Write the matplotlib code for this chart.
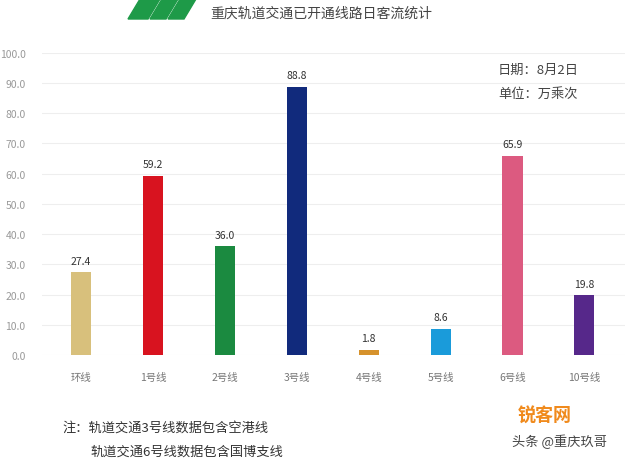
import matplotlib
matplotlib.use("Agg")
from matplotlib import pyplot as plt
from matplotlib.patches import Polygon

plt.rcParams['font.family'] = ['Noto Sans CJK SC', 'DejaVu Sans']

# 数据
lines = ['环线', '1号线', '2号线', '3号线', '4号线', '5号线', '6号线', '10号线']
values = [27.4, 59.2, 36.0, 88.8, 1.8, 8.6, 65.9, 19.8]
colors = ['#D8C07C', '#D8131F', '#1B8A40', '#112A7C', '#D6922C', '#1A9BDA', '#DC5A80', '#56288A']
yticks = [0, 10, 20, 30, 40, 50, 60, 70, 80, 90, 100]

fig = plt.figure(figsize=(6.4, 4.6), dpi=100)
ax = fig.add_axes([0.066, 0.226, 0.91, 0.657])

x = range(len(lines))
ax.bar(x, values, width=0.28, color=colors, zorder=3)
for i, v in enumerate(values):
    ax.text(i, v + 2.2, '%.1f' % v, ha='center', va='bottom', fontsize=7.5, color='#333333')

ax.set_ylim(0, 100)
ax.set_xlim(-0.54, 7.56)
ax.set_yticks(yticks)
ax.set_yticklabels(['%.1f' % t for t in yticks], fontsize=7.5, color='#999999')
ax.set_xticks(list(x))
ax.set_xticklabels(lines, fontsize=7.5, color='#777777')
ax.tick_params(length=0, pad=12)
ax.tick_params(axis='y', pad=12)
ax.grid(axis='y', color='#EEEEEE', linewidth=0.8, zorder=0)
for s in ax.spines.values():
    s.set_visible(False)

# 标题和logo
fig.text(210 / 640, 1 - 14 / 460, '重庆轨道交通已开通线路日客流统计', fontsize=10, color='#444444', va='center')
green = '#1E9A48'
for pts in ([(128, 20), (140, 0), (160, 0), (148, 20)],
            [(150, 20), (162, 0), (178, 0), (166, 20)],
            [(168, 20), (180, 0), (196, 0), (184, 20)]):
    fig.patches.append(Polygon([(px / 640, 1 - py / 460) for px, py in pts],
                               closed=True, color=green, transform=fig.transFigure))

fig.text(498 / 640, 1 - 70 / 460, '日期：8月2日', fontsize=9.5, color='#444444', va='center')
fig.text(498 / 640, 1 - 94 / 460, '单位：万乘次', fontsize=9.5, color='#444444', va='center')

# 注释
fig.text(62 / 640, 1 - 428 / 460, '注：轨道交通3号线数据包含空港线', fontsize=9.5, color='#333333', va='center')
fig.text(90 / 640, 1 - 452 / 460, '轨道交通6号线数据包含国博支线', fontsize=9.5, color='#333333', va='center')

fig.text(512 / 640, 1 - 442 / 460, '头条 @重庆玖哥', fontsize=9.5, color='#444444', va='center')
fig.text(518 / 640, 1 - 416 / 460, '锐客网', fontsize=13, color='#F08A1C', va='center', fontweight='bold')

fig.savefig('out.png', dpi=100, facecolor='white')
